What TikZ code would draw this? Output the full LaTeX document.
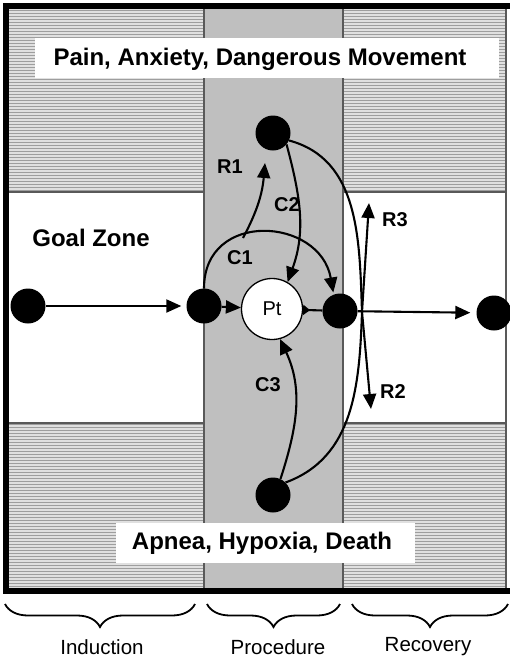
\documentclass[tikz,border=0pt]{standalone}
\usepackage{fontspec}
\setmainfont{Liberation Sans}
\usetikzlibrary{arrows.meta,decorations.pathreplacing}
\begin{document}
\begin{tikzpicture}[x=1pt,y=-1pt,
  dot/.style={circle,fill=black,minimum size=35pt,inner sep=0pt},
  link/.style={line width=2.1pt,-{Triangle[length=15pt,width=13pt]}},
  plain/.style={line width=2.1pt},
  lbl/.style={font=\fontsize{20}{20}\selectfont\bfseries},
  zonetext/.style={font=\fontsize{24}{24}\selectfont\bfseries},
  phase/.style={font=\fontsize{20.5}{20.5}\selectfont},
  hatchbg/.style={fill=black!12},
  hatchline/.style={draw=black!38,line width=1.3pt},
  edge/.style={draw=black!65,line width=1.2pt},
  phasebrace/.style={decorate,decoration={brace,amplitude=23pt,aspect=0.5},line width=1.8pt}]

\useasboundingbox (0,0) rectangle (509,659);
\fill[white] (0,0) rectangle (509,659);

% hatched danger bands (top and bottom)
\fill[hatchbg] (9,9) rectangle (506,192);
\fill[hatchbg] (9,423) rectangle (506,588);
\foreach \i in {0,...,60} \draw[hatchline] (9,{10.5+3*\i}) -- (506,{10.5+3*\i});
\foreach \i in {0,...,54} \draw[hatchline] (9,{424.5+3*\i}) -- (506,{424.5+3*\i});

% goal zones of induction and recovery
\fill[white] (9,192) rectangle (204,423);
\fill[white] (343,192) rectangle (506,423);
\draw[edge] (9,192) -- (506,192);
\draw[edge] (9,423) -- (506,423);

% procedure column
\fill[black!25] (204,9) rectangle (343,588);
\draw[edge,line width=1.6pt] (204,9) -- (204,588);
\draw[edge,line width=1.6pt] (343,9) -- (343,588);
\draw[edge] (506,9) -- (506,588);

% outer frame
\draw[line width=6pt] (516,6) -- (6,6) -- (6,591) -- (516,591);

% headline boxes
\fill[white] (35,38) rectangle (499,78);
\node[zonetext] (danger) at (260,59) {Pain, Anxiety, Dangerous Movement};
\fill[white] (116,523) rectangle (415,563);
\node[zonetext] (risk) at (262,543) {Apnea, Hypoxia, Death};
\node[zonetext] (goal) at (91,238) {Goal Zone};

% states
\node[dot] (start) at (28,306) {};
\node[dot] (enter) at (204,306) {};
\node[circle,fill=white,draw=black,line width=1.3pt,minimum size=61pt,inner sep=0pt,
      font=\fontsize{20}{20}\selectfont] (pt) at (272,309) {Pt};
\node[dot] (exit) at (340,311) {};
\node[dot] (done) at (494,313) {};
\node[dot] (top) at (273,133) {};
\node[dot] (bottom) at (273,495) {};
\coordinate (cross) at (362,312);
\coordinate (r3tip) at (369,203);
\coordinate (r2tip) at (371,409);
\coordinate (r1base) at (243,238);
\coordinate (r1tip) at (265,163);

% main path
\draw[link,shorten >=5pt] (start) -- (enter);
\draw[link] (enter) -- (pt);
\draw[plain,{Triangle[reversed,length=7pt,width=10pt]}-] (pt) -- (exit);
\draw[link,shorten >=6pt] (exit) -- (done);

% controls and rescues
\draw[link,shorten >=2pt] (enter.north) to[out=90,in=100,looseness=1.55] (exit.111);
\draw[link] (r1base) to[out=62,in=-95] (r1tip);
\draw[link] (top.-40) to[out=-75,in=70] (pt.60);
\draw[link] (bottom.65) to[out=72,in=-65] (pt.-75);
\draw[plain] (top.-25) to[out=-15,in=92] (cross) to[out=-92,in=20] (bottom.45);
\draw[link] (cross) -- (r3tip);
\draw[link] (cross) -- (r2tip);

% labels
\node[lbl] (lr1) at (230,167) {R1};
\node[lbl] (lc2) at (287,205) {C2};
\node[lbl] (lc1) at (240,258) {C1};
\node[lbl] (lc3) at (268,385) {C3};
\node[lbl] (lr3) at (395,220) {R3};
\node[lbl] (lr2) at (393,392) {R2};

% phases
\draw[phasebrace] (195,604) -- (5,604);
\draw[phasebrace] (340,604) -- (207,604);
\draw[phasebrace] (508,604) -- (352,604);
\node[phase] (induction) at (102,647) {Induction};
\node[phase] (procedure) at (278,647) {Procedure};
\node[phase] (recovery) at (428,647) {Recovery};
\end{tikzpicture}
\end{document}
